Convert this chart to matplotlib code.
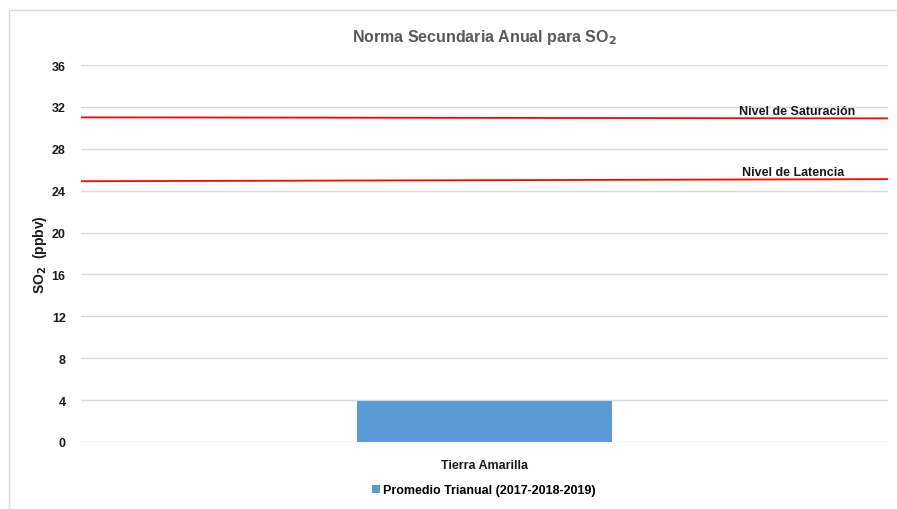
import matplotlib
matplotlib.use('Agg')
import matplotlib.pyplot as plt
from matplotlib.patches import Rectangle

plt.rcParams['font.family'] = ['Liberation Sans Narrow', 'Liberation Sans', 'DejaVu Sans']
plt.rcParams['font.weight'] = 'bold'
plt.rcParams['mathtext.fontset'] = 'custom'
plt.rcParams['mathtext.bf'] = 'Liberation Sans Narrow:bold'
plt.rcParams['mathtext.rm'] = 'Liberation Sans Narrow:bold'

stations = ["Tierra Amarilla"]
promedio = [3.87]
series_label = "Promedio Trianual (2017-2018-2019)"
y_ticks = [0, 4, 8, 12, 16, 20, 24, 28, 32, 36]
saturacion = [31.0, 30.9]
latencia = [24.9, 25.1]

fig = plt.figure(figsize=(8.97, 5.10), dpi=100)
fig.patches.append(Rectangle((9 / 897, -0.1), 1.2, 1 - 11 / 510 + 0.1, transform=fig.transFigure,
                             fill=False, edgecolor="#d9d9d9", linewidth=1))
ax = fig.add_axes([81 / 897, 1 - 443 / 510, 807 / 897, 377 / 510])

x = range(len(stations))
ax.bar(x, promedio, width=0.315, color="#5b9bd5", label=series_label, zorder=3)

# niveles de la norma
ax.plot([-0.5, 0.5], saturacion, color="red", linewidth=1.3, zorder=4)
ax.plot([-0.5, 0.5], latencia, color="red", linewidth=1.3, zorder=4)
ax.text(0.387, 31.05, "Nivel de Saturación", ha="center", va="bottom", fontsize=9, color="#1a1a1a")
ax.text(0.383, 25.2, "Nivel de Latencia", ha="center", va="bottom", fontsize=9, color="#1a1a1a")

ax.set_xlim(-0.5, 0.5)
ax.set_ylim(0, 36)
ax.set_yticks(y_ticks)
ax.set_xticks(list(x))
ax.set_xticklabels(stations)
ax.tick_params(length=0, labelsize=9, colors="#1a1a1a")
ax.tick_params(axis="x", pad=12)
ax.tick_params(axis="y", pad=11)
ax.grid(axis="y", color="#d9d9d9", linewidth=1, zorder=0)
for s in ax.spines.values():
    s.set_visible(False)

ax.set_ylabel("SO$_\\mathrm{2}$  (ppbv)", fontsize=10, fontweight="bold", color="#1a1a1a", labelpad=0)
ax.yaxis.set_label_coords(-0.040, 0.50)
ax.set_title("Norma Secundaria Anual para SO$_\\mathrm{2}$", fontsize=11.5, fontweight="bold",
             color="#595959", pad=17)

fig.legend(loc="center", bbox_to_anchor=(484 / 897, 1 - 491 / 510), frameon=False,
           fontsize=9, handlelength=0.6, handleheight=0.6, handletextpad=0.3)

plt.savefig("out.png")
